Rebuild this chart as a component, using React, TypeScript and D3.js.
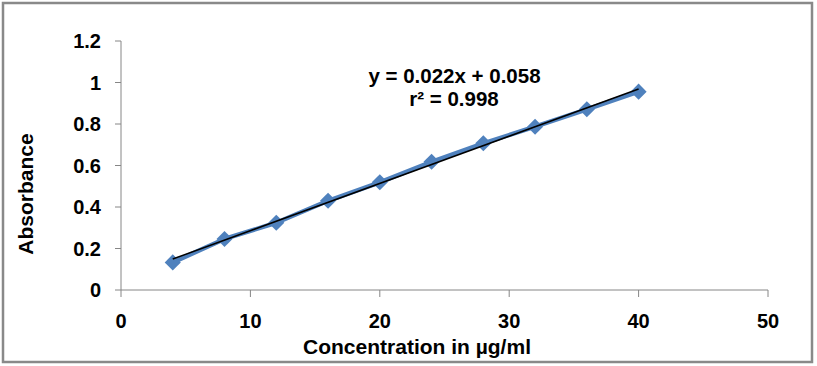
import React from "react";
import * as d3 from "d3";

const concentrations = [4, 8, 12, 16, 20, 24, 28, 32, 36, 40];
const absorbance = [0.133, 0.246, 0.324, 0.43, 0.519, 0.618, 0.707, 0.787, 0.871, 0.956];
const xTicks = [0, 10, 20, 30, 40, 50];
const yTicks = [0, 0.2, 0.4, 0.6, 0.8, 1, 1.2];
const equationText = "y = 0.022x + 0.058";
const r2Text = "r² = 0.998";
const xTitle = "Concentration in µg/ml";
const yTitle = "Absorbance";

const W = 817;
const H = 366;
const FONT = "'Liberation Sans', Arial, sans-serif";
const BLUE = "#4F81BD";
const AXIS = "#868686";

export default function App() {
  const x = d3.scaleLinear().domain([0, 50]).range([121, 768]);
  const y = d3.scaleLinear().domain([0, 1.2]).range([290, 41]);

  // least squares trendline
  const mx = d3.mean(concentrations)!;
  const my = d3.mean(absorbance)!;
  let sxy = 0;
  let sxx = 0;
  concentrations.forEach((c, i) => {
    sxy += (c - mx) * (absorbance[i] - my);
    sxx += (c - mx) * (c - mx);
  });
  const slope = sxy / sxx;
  const intercept = my - slope * mx;
  const x0 = d3.min(concentrations)!;
  const x1 = d3.max(concentrations)!;

  const pts: [number, number][] = concentrations.map((c, i) => [x(c), y(absorbance[i])]);
  const line = d3.line()(pts) || "";
  const diamond = d3.symbol().type(d3.symbolDiamond2).size(165)() || "";

  const fmt = (v: number) => (Number.isInteger(v) ? String(v) : String(+v.toFixed(1)));

  return (
    <svg
      width={W}
      height={H}
      style={{ position: "absolute", left: 0, top: 0, background: "#fff" }}
      fontFamily={FONT}
      fontWeight="bold"
    >
      <rect x={0} y={0} width={W} height={H} fill="#fff" />
      <rect x={3} y={3} width={809} height={359} fill="none" stroke="#898989" strokeWidth={2.5} />

      {/* Y axis */}
      <line x1={x(0)} x2={x(0)} y1={y(1.2)} y2={y(0)} stroke={AXIS} strokeWidth={1} />
      {yTicks.map((t) => (
        <g key={"y" + t}>
          <line x1={x(0) - 6} x2={x(0)} y1={y(t)} y2={y(t)} stroke={AXIS} strokeWidth={1} />
          <text x={101} y={y(t)} dy="0.36em" textAnchor="end" fontSize={20} fill="#000">
            {fmt(t)}
          </text>
        </g>
      ))}

      {/* X axis */}
      <line x1={x(0)} x2={x(50)} y1={y(0)} y2={y(0)} stroke={AXIS} strokeWidth={1} />
      {xTicks.map((t) => (
        <g key={"x" + t}>
          <line x1={x(t)} x2={x(t)} y1={y(0)} y2={y(0) + 7} stroke={AXIS} strokeWidth={1} />
          <text x={x(t)} y={328} textAnchor="middle" fontSize={20} fill="#000">
            {t}
          </text>
        </g>
      ))}

      {/* Series */}
      <path d={line} fill="none" stroke={BLUE} strokeWidth={4.5} strokeLinejoin="round" />
      {pts.map((p, i) => (
        <path key={"m" + i} d={diamond} transform={`translate(${p[0]},${p[1]})`} fill={BLUE} />
      ))}

      {/* Trendline */}
      <line
        x1={x(x0)}
        y1={y(slope * x0 + intercept)}
        x2={x(x1)}
        y2={y(slope * x1 + intercept)}
        stroke="#000"
        strokeWidth={1.5}
      />

      {/* Equation */}
      <text x={454.5} y={82.5} textAnchor="middle" fontSize={20.5} fill="#000">
        {equationText}
      </text>
      <text x={454} y={106} textAnchor="middle" fontSize={20.5} fill="#000">
        {r2Text}
      </text>

      {/* Axis titles */}
      <text x={417} y={354} textAnchor="middle" fontSize={21} fill="#000">
        {xTitle}
      </text>
      <text
        transform={`translate(33,194) rotate(-90)`}
        textAnchor="middle"
        fontSize={21}
        fill="#000"
      >
        {yTitle}
      </text>
    </svg>
  );
}
